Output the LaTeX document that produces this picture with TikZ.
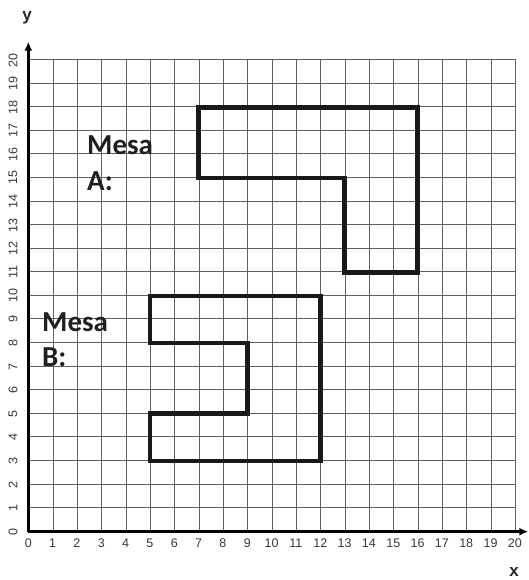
\documentclass[tikz,border=0pt]{standalone}
\usepackage{fontspec}
\usetikzlibrary{arrows.meta}
\setmainfont{Liberation Sans}
\newfontfamily\mesafont{Carlito}
\begin{document}
\begin{tikzpicture}[x=1pt,y=1pt,
  gridline/.style={draw=black!62, line width=1.1pt},
  axisline/.style={draw=black, line width=2.4pt, -{Latex[length=9pt,width=8pt]}},
  mesaline/.style={draw=black!90, line width=4.6pt, line join=miter},
  ticklbl/.style={font=\fontsize{12.5}{13}\selectfont, text=black!78, inner sep=0pt},
  axlbl/.style={font=\fontsize{17}{20}\selectfont\bfseries, text=black!85, inner sep=0pt},
  mesalbl/.style={font=\mesafont\fontsize{29}{32}\selectfont\bfseries, text=black!88, anchor=base west, inner sep=0pt}]
\useasboundingbox (0,0) rectangle (529,580);
% grid lines snapped to pixel centres
\pgfmathsetmacro{\gxa}{round(28.3)+0.5}
\pgfmathsetmacro{\gxb}{round(28.3+24.33*20)+0.5}
\pgfmathsetmacro{\gya}{round(48.3)+0.5}
\pgfmathsetmacro{\gyb}{round(48.3+23.58*20)+0.5}
\foreach \i in {0,...,20} {
  \pgfmathsetmacro{\gx}{round(28.3+24.33*\i)+0.5}
  \pgfmathsetmacro{\gy}{round(48.3+23.58*\i)+0.5}
  \draw[gridline] (\gx,\gya) -- (\gx,\gyb);
  \draw[gridline] (\gxa,\gy) -- (\gxb,\gy);
}
\begin{scope}[shift={(28.3,48.3)}, x=24.33pt, y=23.58pt]
  \coordinate (O) at (0,0);
  \coordinate (xend) at (20.55,0);
  \coordinate (yend) at (0,20.78);
  \draw[axisline] (O) -- (xend);
  \draw[axisline] (O) -- (yend);
  \foreach \i in {0,...,20} {
    \node[ticklbl] (xt\i) at (\i,-0.48) {\i};
    \node[ticklbl, rotate=90] (yt\i) at (-0.63,\i) {\i};
  }
  \draw[mesaline] (7,18) -- (16,18) -- (16,11) -- (13,11) -- (13,15) -- (7,15) -- cycle;
  \draw[mesaline] (5,10) -- (12,10) -- (12,3) -- (5,3) -- (5,5) -- (9,5) -- (9,8) -- (5,8) -- cycle;
\end{scope}
\node[axlbl] (ylbl) at (27,562) {y};
\node[axlbl] (xlbl) at (514,8) {x};
\node[mesalbl] (mA1) at (87,425) {Mesa};
\node[mesalbl] (mA2) at (87,389) {A:};
\node[mesalbl] (mB1) at (42,248) {Mesa};
\node[mesalbl] (mB2) at (42,213) {B:};
\end{tikzpicture}
\end{document}
